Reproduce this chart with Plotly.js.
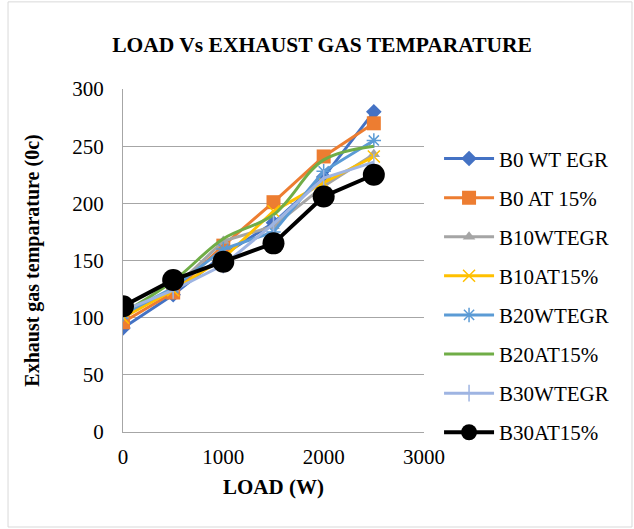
<!DOCTYPE html>
<html><head><meta charset="utf-8">
<script src="https://cdn.plot.ly/plotly-3.0.1.min.js"></script>
<style>html,body{margin:0;padding:0;background:#fff}#c{width:634px;height:529px}</style>
</head><body><div id="c"></div>
<script>
const load = [0, 500, 1000, 1500, 2000, 2500];
const b0wt   = [91, 120, 155, 183, 223, 280];
const b0at   = [96, 122, 163, 201, 241, 270];
const b10wt  = [102, 125, 167, 180, 215, 243];
const b10at  = [100, 124, 152, 193, 218, 241];
const b20wt  = [103, 126, 160, 175, 228, 255];
const b20at  = [104, 132, 169, 190, 238, 250];
const b30wt  = [106, 124, 146, 182, 222, 236];
const b30at  = [110, 133, 149, 165, 206, 225];
const names = ['B0 WT EGR','B0 AT 15%','B10WTEGR','B10AT15%','B20WTEGR','B20AT15%','B30WTEGR','B30AT15%'];
const series = [b0wt,b0at,b10wt,b10at,b20wt,b20at,b30wt,b30at];
const colors = ['#4472C4','#ED7D31','#A5A5A5','#FFC000','#5B9BD5','#70AD47','#9EB4E2','#000000'];
const symbols = ['diamond','square','triangle-up','x-thin-open','asterisk-open','circle','line-ns-open','circle'];
const msizes = [12,14,11,12,12,0,12,22];
const shapes = ['linear','linear','linear','linear','linear','spline','linear','linear'];
const widths = [3,3,3,3,3,3,3,4];
const traces = series.map((s,i)=>({
  x: load, y: s, name: names[i], type:'scatter',
  mode: i===5 ? 'lines' : 'lines+markers',
  legendgroup: 'g'+i,
  line:{color:colors[i], width:widths[i], shape:shapes[i]},
  marker:{symbol:symbols[i], size:msizes[i], color:colors[i], line:{color:colors[i], width: (i===3||i===4||i===6)?1.5:0}}
}));
const serif = 'Liberation Serif';
const layout = {
  width:634, height:529,
  margin:{l:123, r:210, t:89, b:97},
  paper_bgcolor:'#fff', plot_bgcolor:'#fff',
  font:{family:serif, size:21, color:'#000'},
  title:{text:'<b>LOAD Vs EXHAUST GAS TEMPARATURE</b>', x:0.508, xanchor:'center', y:0.915, yanchor:'middle', font:{family:serif, size:21.5, color:'#000'}},
  xaxis:{range:[0,3000], dtick:1000, tick0:0, showgrid:false, zeroline:false, showline:true, linecolor:'#A6A6A6', ticks:'',
    tickfont:{family:serif, size:21}, ticklabelstandoff:6,
    title:{text:'<b>LOAD (W)</b>', font:{family:serif, size:21}, standoff:11}},
  yaxis:{range:[0,300], dtick:50, tick0:0, showgrid:true, gridcolor:'#A6A6A6', zeroline:false, showline:true, linecolor:'#A6A6A6', ticks:'',
    tickfont:{family:serif, size:21}, ticklabelstandoff:14,
    title:{text:'<b>Exhaust gas temparature (0c)</b>', font:{family:serif, size:20}, standoff:27}},
  legend:{x:1.05, xanchor:'left', y:0.856, yanchor:'top', font:{family:serif, size:21}, tracegroupgap:8.8, itemwidth:50, bgcolor:'rgba(0,0,0,0)'},
  shapes:[{type:'rect', xref:'paper', yref:'paper', x0:-0.382, x1:1.691, y0:-0.277, y1:1.254, line:{color:'#D9D9D9', width:1}}]
};
Plotly.newPlot('c', traces, layout, {displayModeBar:false, staticPlot:true});
</script></body></html>
